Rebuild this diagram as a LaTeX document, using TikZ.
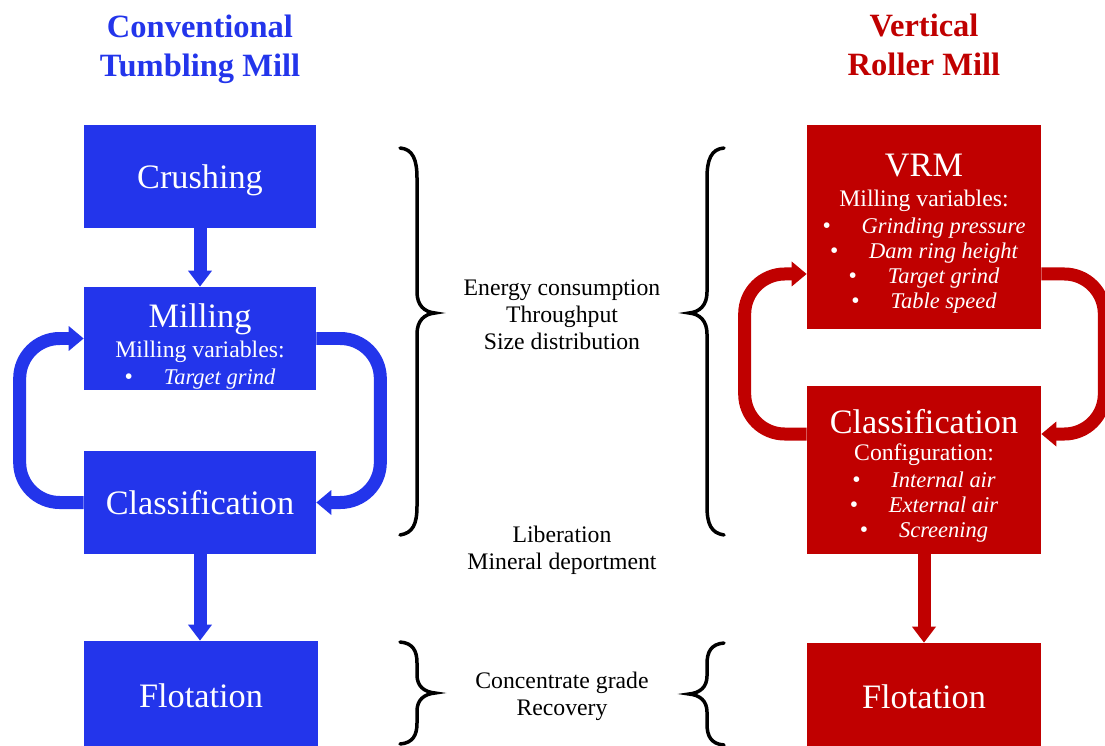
\documentclass[tikz,border=0pt]{standalone}
\usepackage{fontspec}
\setmainfont{Liberation Serif}
\usepackage{xcolor}
\usetikzlibrary{arrows.meta,positioning,calc}

\definecolor{tumblue}{RGB}{35,53,235}
\definecolor{vrmred}{RGB}{192,0,0}
\newcommand{\bigtxt}{\fontsize{19.5}{22}\selectfont}
\newcommand{\smtxt}{\fontsize{13.5}{14.3}\selectfont}
\newcommand{\itm}[1]{\textbullet\hspace{1.3em}{\fontsize{12.8}{14.3}\selectfont\itshape #1}}
\newcommand{\padtop}[1]{\rule{0pt}{#1}}

\begin{document}
\begin{tikzpicture}[x=0.02cm, y=-0.02cm,
  blk/.style={minimum width=4.64cm, text=white, align=center, font=\smtxt, inner sep=0pt},
  bluebox/.style={blk, fill=tumblue},
  redbox/.style={blk, fill=vrmred, minimum width=4.68cm},
  oneline/.style={font=\bigtxt, text depth=0pt},
  flow/.style={line width=0.26cm, -{Triangle[width=0.46cm, length=0.32cm]}},
  loop/.style={line width=0.26cm, rounded corners=0.8cm, -{Triangle[width=0.48cm, length=0.3cm]}},
  ttl/.style={align=center, font=\fontsize{18.5}{22.2}\selectfont\bfseries},
  note/.style={align=center, font=\fontsize{13.5}{15.4}\selectfont},
  brc/.style={line width=0.07cm, line cap=round}]
  \useasboundingbox (0,0) rectangle (1105,746);

  % column titles
  \node[ttl, text=tumblue] (tleft) at (200,49) {Conventional\\Tumbling Mill};
  \node[ttl, text=vrmred] (tright) at (924,45) {Vertical\\Roller Mill};

  % tumbling mill circuit
  \node[bluebox, oneline, minimum height=2.06cm] (crush) at (200,176.5) {Crushing};
  \node[bluebox, minimum height=2.06cm] (mill) at (200,338.5)
    {\padtop{22.3pt}{\bigtxt Milling}\\[3pt] Milling variables:\\[1pt] \itm{Target grind}};
  \node[bluebox, oneline, minimum height=2.06cm] (clsL) at (200,502.5) {Classification};
  \node[bluebox, oneline, minimum width=4.68cm, minimum height=2.18cm] (flotL) at (201,695.5) {Flotation};

  % vertical roller mill circuit
  \node[redbox, minimum height=4.08cm] (vrm) at (924,227)
    {\padtop{20.2pt}{\bigtxt VRM}\\[3pt] Milling variables:\\[1pt] \itm{Grinding pressure}\\ \itm{Dam ring height}\\
     \itm{Target grind}\\ \itm{Table speed}};
  \node[redbox, minimum height=3.36cm] (clsR) at (924,470)
    {\padtop{20.7pt}{\bigtxt Classification}\\[1pt] Configuration:\\[1pt] \itm{Internal air}\\ \itm{External air}\\
     \itm{Screening}};
  \node[redbox, oneline, minimum height=2.14cm] (flotR) at (924,696.5) {Flotation};

  % outcomes
  \node[note] (perf) at (562,315) {Energy consumption\\Throughput\\Size distribution};
  \node[note] (lib) at (562,550.5) {Liberation\\Mineral deportment};
  \node[note] (conc) at (562,696.5) {Concentrate grade\\Recovery};

  \draw[flow, tumblue] (crush) -- (mill);
  \draw[flow, tumblue] (clsL.south) -- (clsL.south |- flotL.north);
  \draw[flow, vrmred] (clsR) -- (flotR);

  \draw[loop, tumblue] (clsL.west) -- ++(-64,0) |- (mill.west);
  \draw[loop, tumblue] (mill.east) -- ++(64,0) |- (clsL.east);
  \draw[loop, vrmred] ([yshift=0.72cm]clsR.west) -- ++(-62,0) |- ([yshift=-0.94cm]vrm.west);
  \draw[loop, vrmred] ([yshift=-0.94cm]vrm.east) -- ++(63,0) |- ([yshift=0.72cm]clsR.east);

  % braces
  \draw[brc] (400,148) .. controls (413,149) and (417,160) .. (417,178) -- (417,292)
    .. controls (417,305) and (424,312) .. (435,313) .. controls (424,314) and (417,321) .. (417,334)
    -- (417,506) .. controls (417,524) and (413,533) .. (400,535);
  \draw[brc] (724,148) .. controls (711,149) and (707,160) .. (707,178) -- (707,292)
    .. controls (707,305) and (700,312) .. (689,313) .. controls (700,314) and (707,321) .. (707,334)
    -- (707,506) .. controls (707,524) and (711,533) .. (724,535);
  \draw[brc] (400,642) .. controls (413,643) and (417,651) .. (417,663) -- (417,675)
    .. controls (417,686) and (424,692) .. (435,693) .. controls (424,694) and (417,700) .. (417,711)
    -- (417,723) .. controls (417,735) and (413,743) .. (400,744);
  \draw[brc] (724,643) .. controls (711,644) and (707,652) .. (707,664) -- (707,676)
    .. controls (707,687) and (700,693) .. (689,694) .. controls (700,695) and (707,701) .. (707,712)
    -- (707,724) .. controls (707,736) and (711,744) .. (724,745);
\end{tikzpicture}
\end{document}
